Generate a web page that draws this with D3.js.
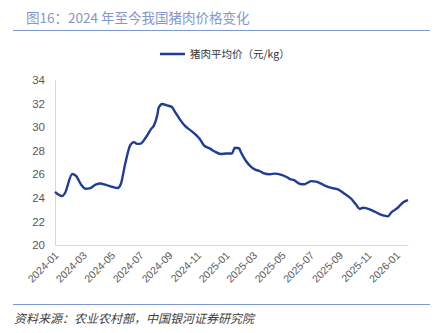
<!DOCTYPE html>
<html><head><meta charset="utf-8">
<script src="https://cdn.jsdelivr.net/npm/d3@7/dist/d3.min.js"></script>
<style>
html,body{margin:0;padding:0;background:#fff;}
svg{display:block;font-family:"Noto Sans CJK SC","Liberation Sans",sans-serif;}
</style></head>
<body>
<svg id="c" width="435" height="333"></svg>
<script>
const dates = ["2024-01-01","2024-01-16","2024-01-22","2024-02-07","2024-02-16","2024-02-26","2024-03-07","2024-03-15","2024-03-28","2024-04-07","2024-04-19","2024-05-04","2024-05-14","2024-05-21","2024-05-30","2024-06-10","2024-06-18","2024-06-25","2024-07-02","2024-07-13","2024-07-25","2024-07-31","2024-08-07","2024-08-10","2024-08-18","2024-08-26","2024-09-07","2024-09-14","2024-09-24","2024-10-06","2024-10-18","2024-10-30","2024-11-06","2024-11-15","2024-11-28","2024-12-08","2024-12-21","2025-01-02","2025-01-14","2025-01-20","2025-01-29","2025-02-03","2025-02-13","2025-02-24","2025-03-06","2025-03-15","2025-03-22","2025-04-05","2025-04-16","2025-04-30","2025-05-12","2025-05-18","2025-05-27","2025-06-09","2025-06-18","2025-06-24","2025-07-03","2025-07-13","2025-07-25","2025-08-01","2025-08-15","2025-08-29","2025-09-12","2025-09-27","2025-10-07","2025-10-14","2025-10-22","2025-11-05","2025-11-17","2025-11-26","2025-12-05","2025-12-14","2025-12-21","2026-01-03","2026-01-10","2026-01-16","2026-01-26"];
const porkPrice = [24.5,24.15,24.38,26.03,25.82,25.12,24.77,24.8,25.12,25.22,25.1,24.92,24.84,25.18,26.83,28.45,28.73,28.58,28.6,29.1,29.85,30.15,31.0,31.65,31.97,31.86,31.72,31.3,30.68,30.08,29.7,29.3,29.0,28.45,28.18,27.93,27.72,27.77,27.77,28.25,28.21,27.8,27.13,26.63,26.38,26.26,26.1,26.0,26.06,25.95,25.75,25.6,25.5,25.18,25.15,25.26,25.42,25.38,25.18,25.04,24.84,24.72,24.35,23.9,23.41,23.07,23.16,23.03,22.8,22.62,22.5,22.43,22.76,23.12,23.41,23.63,23.81];
const xTickLabels = ["2024-01","2024-03","2024-05","2024-07","2024-09","2024-11","2025-01","2025-03","2025-05","2025-07","2025-09","2025-11","2026-01"];
const yTicks = [20,22,24,26,28,30,32,34];
const seriesName = "猪肉平均价（元/kg）";
const titleText = "图16：2024 年至今我国猪肉价格变化";
const sourceText = "资料来源：农业农村部，中国银河证券研究院";

const parse = d3.timeParse("%Y-%m-%d");
const parseM = d3.timeParse("%Y-%m");
const data = dates.map((d,i)=>({d:parse(d), v:porkPrice[i]}));

const svg = d3.select("#c");
const L = 55, R = 408, T = 80, B = 245;

const x = d3.scaleTime().domain([parse("2024-01-01"), parse("2026-01-26")]).range([L, R]);
const y = d3.scaleLinear().domain([20, 34]).range([B, T]);

// title
svg.append("text").attr("x", 26).attr("y", 23).attr("font-size", 13.5).attr("fill", "#8497c9").text(titleText);
svg.append("line").attr("x1", 13).attr("x2", 430).attr("y1", 30.5).attr("y2", 30.5).attr("stroke", "#7f98cf").attr("stroke-width", 1.2);

// legend
svg.append("line").attr("x1", 160).attr("x2", 185).attr("y1", 54).attr("y2", 54).attr("stroke", "#1f3c96").attr("stroke-width", 2.5);
svg.append("text").attr("x", 190).attr("y", 58).attr("font-size", 10.5).attr("fill", "#333").text(seriesName);

// axes
const yAxis = d3.axisLeft(y).tickValues(yTicks).tickSize(0).tickPadding(10);
const gy = svg.append("g").attr("transform", `translate(${L},0)`).call(yAxis);
gy.select(".domain").attr("stroke", "#d9d9d9");
gy.selectAll("text").attr("font-family", "'Liberation Sans',sans-serif").attr("font-size", 11.5).attr("fill", "#595959");

const xAxis = d3.axisBottom(x).tickValues(xTickLabels.map(parseM)).tickSize(0).tickFormat(d3.timeFormat("%Y-%m"));
const gx = svg.append("g").attr("transform", `translate(0,${B})`).call(xAxis);
gx.select(".domain").attr("stroke", "#d9d9d9");
gx.selectAll("text")
  .attr("font-family", "'Liberation Sans',sans-serif")
  .attr("font-size", 10.5).attr("fill", "#595959")
  .attr("text-anchor", "end")
  .attr("dy", null)
  .attr("transform", "translate(4,11) rotate(-45)")
  .attr("y", 0).attr("x", 0);

// line
const line = d3.line().x(d=>x(d.d)).y(d=>y(d.v)).curve(d3.curveMonotoneX);
svg.append("path").datum(data).attr("d", line).attr("fill", "none")
  .attr("stroke", "#1f3c96").attr("stroke-width", 2.4).attr("stroke-linejoin", "round");

// footer
svg.append("line").attr("x1", 13).attr("x2", 430).attr("y1", 304.5).attr("y2", 304.5).attr("stroke", "#7f98cf").attr("stroke-width", 1.2);
svg.append("text").attr("x", 14).attr("y", 323).attr("font-size", 12).attr("font-style", "italic").attr("fill", "#404040").text(sourceText);
</script>
</body></html>
